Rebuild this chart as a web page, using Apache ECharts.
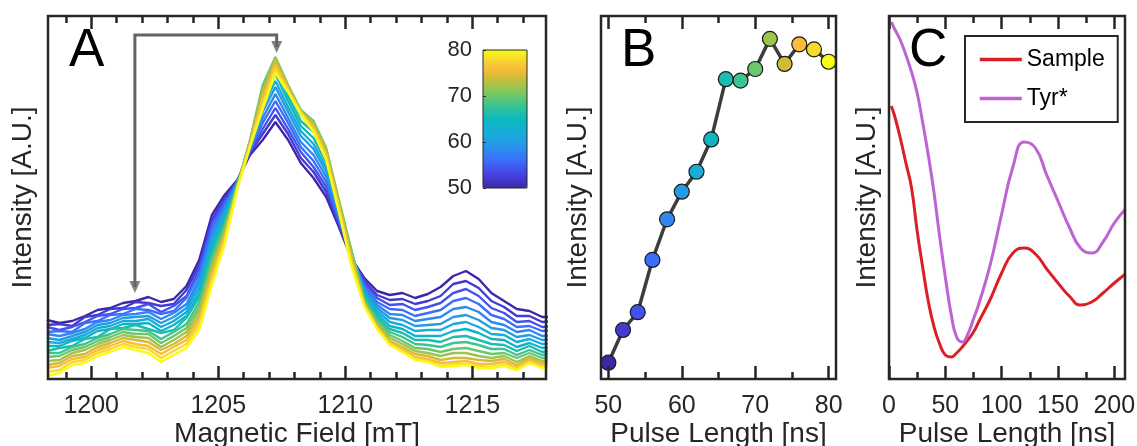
<!DOCTYPE html>
<html>
<head>
<meta charset="utf-8">
<script src="https://cdn.jsdelivr.net/npm/echarts@6/dist/echarts.min.js"></script>
<style>
  html, body { margin: 0; padding: 0; background: #ffffff; }
  #chart { width: 1137px; height: 446px; }
</style>
</head>
<body>
<div id="chart"></div>
<script>
// ---------- Panel A: field-swept spectra, one trace per pulse length ----------
const fieldValues = [1198.25, 1198.75, 1199.25, 1199.75, 1200.25, 1200.75, 1201.25, 1201.75, 1202.25, 1202.75,
  1203.25, 1203.75, 1204.25, 1204.75, 1205.25, 1205.75, 1206.25, 1206.75, 1207.25, 1207.75,
  1208.25, 1208.75, 1209.25, 1209.75, 1210.25, 1210.75, 1211.25, 1211.75, 1212.25, 1212.75,
  1213.25, 1213.75, 1214.25, 1214.75, 1215.25, 1215.75, 1216.25, 1216.75, 1217.25, 1217.75, 1218.25];
const spectraPulse = [50, 52, 54, 56, 58, 60, 62, 64, 66, 68, 70, 72, 74, 76, 78, 80];
const spec50 = [59,56,58,63,69,71,76,78,82,77,80,93,119,164,184,199,224,239,257,239,216,201,182,152,120,101,88,84,86,81,85,92,103,108,100,86,78,70,68,62,62];
const spec52 = [54,55,53,62,64,70,71,77,76,73,75,89,114,159,181,198,226,245,264,245,221,207,187,155,121,98,84,79,80,75,78,83,95,98,91,78,72,63,63,57,58];
const spec54 = [52,49,52,57,63,65,70,71,75,67,73,83,110,155,177,198,227,250,271,250,227,212,192,157,122,96,81,74,75,69,72,76,86,90,83,71,66,57,58,52,53];
const spec56 = [47,48,47,56,58,64,65,70,69,65,68,81,105,150,174,197,229,256,278,256,232,218,197,160,122,93,77,70,69,63,66,69,78,81,75,64,60,52,53,48,49];
const spec58 = [45,43,46,50,57,59,64,65,67,60,66,75,100,145,171,197,230,261,285,261,237,224,202,163,123,91,74,65,64,58,60,62,70,72,67,57,54,47,49,43,44];
const spec60 = [41,39,43,47,54,56,61,62,63,56,62,71,96,141,167,196,232,267,292,267,243,230,207,166,124,88,71,61,59,53,54,55,62,64,59,51,49,42,44,39,40];
const spec62 = [37,36,40,44,51,53,58,58,60,52,58,67,91,136,164,195,233,272,298,272,248,235,211,168,125,86,68,57,54,48,49,49,55,57,52,45,44,37,40,35,36];
const spec64 = [33,33,38,41,48,50,55,55,56,48,54,63,86,131,161,195,235,278,305,278,253,241,216,171,126,84,65,53,50,43,43,43,48,50,46,40,39,32,36,31,32];
const spec66 = [28,31,33,40,42,50,51,54,50,46,49,61,82,127,157,194,236,283,314,283,258,247,221,174,126,82,62,50,46,39,39,37,42,43,39,35,34,28,33,27,29];
const spec68 = [26,26,32,35,41,45,50,49,48,40,47,55,77,122,154,194,238,289,320,289,264,252,226,176,127,80,60,47,42,35,34,32,36,37,34,30,30,24,29,24,26];
const spec70 = [22,23,29,32,38,42,47,45,45,36,43,51,72,117,151,193,239,294,322,294,269,258,231,179,128,78,57,44,38,31,30,27,30,31,28,25,26,21,26,21,23];
const spec72 = [18,19,26,29,35,39,44,42,41,32,39,47,68,113,147,192,238,289,321,293,268,256,229,177,125,77,55,41,35,28,26,23,26,26,23,21,23,17,23,18,20];
const spec74 = [14,16,23,25,32,36,41,39,37,29,35,43,63,108,144,192,236,284,318,291,267,254,226,174,121,75,53,38,32,25,23,19,21,21,19,18,20,14,21,16,17];
const spec76 = [11,13,20,22,29,33,38,35,33,25,32,39,58,103,141,191,235,280,314,290,267,251,224,172,118,74,52,36,30,22,20,16,17,18,15,15,17,12,19,14,15];
const spec78 = [7,9,17,19,26,30,35,32,30,21,28,35,54,99,137,191,233,275,310,288,266,249,221,169,115,73,51,35,28,20,18,13,15,15,13,12,14,10,17,12,14];
const spec80 = [3,6,14,16,23,27,32,29,26,17,24,31,49,94,134,190,232,270,306,287,265,247,219,167,112,73,50,34,27,19,17,12,13,14,11,11,13,9,16,11,13];
// Bracket arrow from the low-field shoulder to the main peak (field, intensity)
const arrowPath = [[1201.72, 92], [1201.72, 344], [1207.3, 344], [1207.3, 332]];
const arrowHeads = [[1201.72, 92], [1207.3, 332]];
const fieldMajorTicks = [1200, 1205, 1210, 1215];
const fieldMinorTicks = [1199, 1201, 1202, 1203, 1204, 1206, 1207, 1208, 1209, 1211, 1212, 1213, 1214, 1216, 1217];
const colorbarTicks = [50, 60, 70, 80];

// ---------- Panel B: nutation intensity vs pulse length ----------
const pulseB = [50, 52, 54, 56, 58, 60, 62, 64, 66, 68, 70, 72, 74, 76, 78, 80];
const intensityB = [4.5, 13.5, 18.4, 32.8, 44.0, 51.6, 57.1, 66.0, 82.6, 82.2, 85.4, 93.7, 86.8, 92.2, 90.8, 87.4];
const pulseBMajorTicks = [50, 60, 70, 80];
const pulseBMinorTicks = [55, 65, 75];

// ---------- Panel C: Rabi oscillations ----------
const pulseC = [2, 5, 10, 15, 20, 25, 30, 35, 40, 45, 50, 55, 60, 65, 70, 75, 80, 90, 100, 110, 120, 130, 140, 150, 160, 170, 180, 190, 200, 210];
const sampleC = [273, 263, 241, 216, 191, 148, 111, 77, 52, 35, 24, 22, 26, 32, 39, 47, 58, 80, 106, 126, 131, 125, 110, 96, 83, 74, 77, 86, 96, 105];
const tyrC = [357, 350, 339, 324, 307, 286, 256, 223, 186, 142, 102, 66, 42, 37, 45, 60, 76, 115, 165, 212, 237, 231, 204, 178, 152, 131, 126, 137, 156, 170];
const pulseCMajorTicks = [0, 50, 100, 150, 200];
const pulseCMinorTicks = [25, 75, 125, 175];

// ---------- styling ----------
const FONT = '"Liberation Sans", Arial, Helvetica, sans-serif';
const INK = '#262626';
const parulaStops = [
  [0.000, 62, 38, 168], [0.100, 70, 68, 228], [0.200, 60, 110, 252], [0.300, 40, 148, 236],
  [0.400, 24, 172, 216], [0.500, 10, 186, 190], [0.600, 60, 196, 145], [0.700, 130, 200, 90],
  [0.800, 210, 188, 55], [0.875, 254, 189, 60], [0.950, 245, 228, 40], [1.000, 249, 251, 21]
];
function parula(t) {
  t = Math.max(0, Math.min(1, t));
  for (let i = 1; i < parulaStops.length; i++) {
    const a = parulaStops[i - 1], b = parulaStops[i];
    if (t <= b[0]) {
      const f = (t - a[0]) / (b[0] - a[0]);
      const c = [1, 2, 3].map(j => Math.round(a[j] + (b[j] - a[j]) * f));
      return 'rgb(' + c.join(',') + ')';
    }
  }
  return 'rgb(249,251,21)';
}
const parulaList = Array.from({ length: 31 }, (_, i) => parula(i / 30));

const grids = [
  { left: 48, top: 16, width: 498, height: 363 },   // A
  { left: 601, top: 16, width: 235, height: 363 },  // B
  { left: 889, top: 16, width: 236, height: 363 },  // C
];

function gridOpt(g, borderWidth) {
  return Object.assign({
    show: true, borderColor: INK, borderWidth: borderWidth, backgroundColor: 'rgba(0,0,0,0)',
    containLabel: false, outerBoundsMode: 'none', z: 5
  }, g);
}

// Four x axes per panel: major/minor ticks at bottom (labels + title) and mirrored at top.
function xAxesFor(gridIndex, min, max, major, minor, title) {
  const base = {
    type: 'value', gridIndex: gridIndex, min: min, max: max,
    axisLine: { show: false }, splitLine: { show: false }, z: 6
  };
  const tick = (vals, len) => ({ show: true, inside: true, length: len, customValues: vals,
    lineStyle: { color: INK, width: 2.5 } });
  return [
    Object.assign({}, base, {
      position: 'bottom', axisTick: tick(major, 13),
      axisLabel: { show: true, customValues: major, margin: 15, fontSize: 25, color: INK,
        fontFamily: FONT, formatter: v => String(v) },
      name: title, nameLocation: 'middle', nameGap: 41, nameMoveOverlap: false,
      nameTextStyle: { fontSize: 28, color: INK, fontFamily: FONT }
    }),
    Object.assign({}, base, { position: 'bottom', axisTick: tick(minor, 7), axisLabel: { show: false } }),
    Object.assign({}, base, { position: 'top', axisTick: tick(major, 13), axisLabel: { show: false } }),
    Object.assign({}, base, { position: 'top', axisTick: tick(minor, 7), axisLabel: { show: false } })
  ];
}

function yAxisFor(gridIndex, max, gap) {
  return {
    type: 'value', gridIndex: gridIndex, min: 0, max: max,
    axisLine: { show: false }, axisTick: { show: false }, axisLabel: { show: false },
    splitLine: { show: false },
    name: 'Intensity [A.U.]', nameLocation: 'middle', nameRotate: 90, nameGap: gap,
    nameMoveOverlap: false,
    nameTextStyle: { fontSize: 28, color: INK, fontFamily: FONT }
  };
}

const spectra = [spec50, spec52, spec54, spec56, spec58, spec60, spec62, spec64,
  spec66, spec68, spec70, spec72, spec74, spec76, spec78, spec80];

const series = [];
spectra.forEach((vals, k) => {
  const col = parula((spectraPulse[k] - 50) / 30);
  series.push({
    type: 'line', name: spectraPulse[k] + ' ns', xAxisIndex: 0, yAxisIndex: 0,
    data: fieldValues.map((f, i) => [f, vals[i]]),
    symbol: 'none', clip: true, silent: true, z: 2,
    lineStyle: { color: col, width: 2.4 }, itemStyle: { color: col }
  });
});
series.push({
  type: 'line', name: 'arrow', xAxisIndex: 0, yAxisIndex: 0, data: arrowPath,
  symbol: 'none', silent: true, z: 3,
  lineStyle: { color: '#646464', width: 3, join: 'miter' }
});
series.push({
  type: 'scatter', name: 'arrowhead', xAxisIndex: 0, yAxisIndex: 0, data: arrowHeads,
  symbol: 'triangle', symbolRotate: 180, symbolSize: [11, 12], silent: true, z: 3,
  itemStyle: { color: '#646464' }
});
series.push({
  type: 'line', name: 'trend', xAxisIndex: 4, yAxisIndex: 1,
  data: pulseB.map((p, i) => [p, intensityB[i]]),
  symbol: 'none', silent: true, z: 2,
  lineStyle: { color: '#3d3d3d', width: 3.5 }
});
const bScatterIndex = series.length;
series.push({
  type: 'scatter', name: 'points', xAxisIndex: 4, yAxisIndex: 1,
  data: pulseB.map((p, i) => [p, intensityB[i]]),
  symbol: 'circle', symbolSize: 15, silent: true, z: 3,
  itemStyle: { borderColor: '#1a1a1a', borderWidth: 1.2, opacity: 1 }
});
series.push({
  type: 'line', name: 'Sample', xAxisIndex: 8, yAxisIndex: 2,
  data: pulseC.map((p, i) => [p, sampleC[i]]),
  symbol: 'none', smooth: 0.5, clip: true, z: 2,
  lineStyle: { color: '#dc1f27', width: 3 }, itemStyle: { color: '#dc1f27' }
});
series.push({
  type: 'line', name: 'Tyr*', xAxisIndex: 8, yAxisIndex: 2,
  data: pulseC.map((p, i) => [p, tyrC[i]]),
  symbol: 'none', smooth: 0.5, clip: true, z: 2,
  lineStyle: { color: '#bf62d3', width: 3 }, itemStyle: { color: '#bf62d3' }
});

const xAxes = []
  .concat(xAxesFor(0, 1198.3, 1217.9, fieldMajorTicks, fieldMinorTicks, 'Magnetic Field [mT]'))
  .concat(xAxesFor(1, 49, 81, pulseBMajorTicks, pulseBMinorTicks, 'Pulse Length [ns]'))
  .concat(xAxesFor(2, 0, 209.5, pulseCMajorTicks, pulseCMinorTicks, 'Pulse Length [ns]'));
// colour bar frame axis
xAxes.push({ type: 'value', gridIndex: 3, min: 0, max: 1, show: false });

const yAxes = [yAxisFor(0, 363, 11), yAxisFor(1, 100, 9), yAxisFor(2, 363, 8)];
yAxes.push({
  type: 'value', gridIndex: 3, min: 50, max: 80, position: 'left',
  axisLine: { show: false }, splitLine: { show: false },
  axisTick: { show: true, inside: true, length: 3, customValues: colorbarTicks,
    lineStyle: { color: INK, width: 1 } },
  axisLabel: { show: true, customValues: colorbarTicks, margin: 11, fontSize: 22,
    color: INK, fontFamily: FONT },
  z: 7
});

const letter = (txt, x) => ({
  type: 'text', x: x, y: 25, z: 10,
  style: { text: txt, font: '53px ' + FONT, fill: '#000000', align: 'left', verticalAlign: 'top' }
});

const chart = echarts.init(document.getElementById('chart'), null, { renderer: 'canvas' });
chart.setOption({
  animation: false,
  backgroundColor: '#ffffff',
  grid: [gridOpt(grids[0], 2.5), gridOpt(grids[1], 2.5), gridOpt(grids[2], 2.5),
    gridOpt({ left: 483, top: 50, width: 44, height: 138 }, 1)],
  xAxis: xAxes,
  yAxis: yAxes,
  visualMap: {
    type: 'continuous', min: 50, max: 80, dimension: 0, seriesIndex: [bScatterIndex],
    calculable: false, realtime: false, hoverLink: false, orient: 'vertical',
    left: 483, top: 50, itemWidth: 44, itemHeight: 138, padding: 0,
    inRange: { color: parulaList }, z: 1
  },
  legend: {
    data: ['Sample', 'Tyr*'], orient: 'vertical', left: 965, top: 36,
    itemWidth: 42, itemHeight: 14, itemGap: 16, padding: [12, 13, 12, 13],
    borderColor: INK, borderWidth: 2, backgroundColor: '#ffffff',
    itemStyle: { opacity: 0 }, lineStyle: { width: 3.5 },
    textStyle: { fontSize: 23, color: '#000000', fontFamily: FONT },
    selectedMode: false, z: 8
  },
  graphic: [letter('A', 69), letter('B', 621), letter('C', 909)],
  series: series
});
</script>
</body>
</html>
